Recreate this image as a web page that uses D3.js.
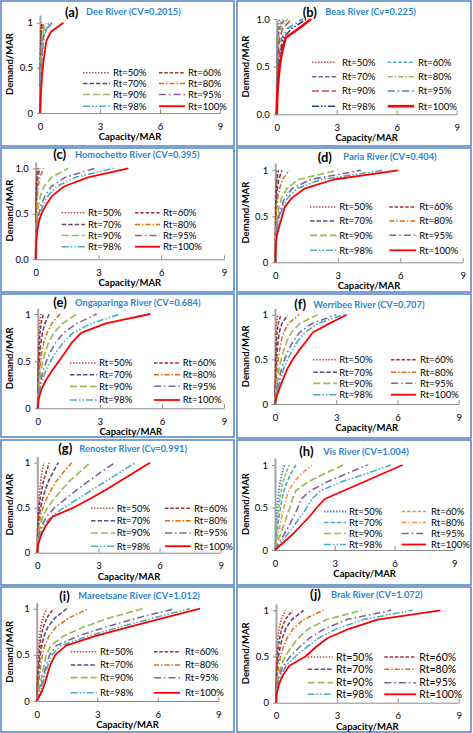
<!DOCTYPE html>
<html><head><meta charset="utf-8">
<script src="https://cdn.jsdelivr.net/npm/d3@7/dist/d3.min.js"></script>
<style>body{margin:0;background:#fff}svg{display:block}text{font-family:Lato,"Open Sans",sans-serif}</style>
</head><body><svg id="c" width="473" height="733"></svg>
<script>
const demandLevels = [0,0.1,0.2,0.3,0.4,0.5,0.6,0.7,0.8,0.9,1.0];
const rtLabels = ["Rt=50%","Rt=60%","Rt=70%","Rt=80%","Rt=90%","Rt=95%","Rt=98%","Rt=100%"];
const panelLetters = ["(a)","(b)","(c)","(d)","(e)","(f)","(g)","(h)","(i)","(j)"];
const riverTitles = ["Dee River (CV=0.2015)","Beas River (Cv=0.225)","Homochetto River (CV=0.395)","Paria River (CV=0.404)","Ongaparinga River (CV=0.684)","Werribee River (CV=0.707)","Renoster River (Cv=0.991)","Vis River (CV=1.004)","Mareetsane River (CV=1.012)","Brak River (CV=1.072)"];
const xTickValues = [0,3,6,9];
const yTickValues = [0,0.5,1];
const yTickFormats = ["0","0.0","0.0","0","0","0","0","0","0","0"];
const xTitle = "Capacity/MAR";
const yTitle = "Demand/MAR";

// capacity/MAR at each demand level, one array per Rt series (50,60,70,80,90,95,98,100)
const capDee = [
 [0,0,0,0.005,0.005,0.01,0.01,0.015,0.02,0.03,0.05],
 [0,0,0.005,0.01,0.01,0.015,0.02,0.025,0.035,0.05,0.08],
 [0,0,0.005,0.01,0.015,0.02,0.03,0.04,0.05,0.07,0.12],
 [0,0,0.01,0.015,0.02,0.03,0.04,0.06,0.08,0.11,0.2],
 [0,0.01,0.015,0.02,0.03,0.04,0.06,0.08,0.11,0.16,0.32],
 [0,0.01,0.02,0.03,0.04,0.06,0.08,0.11,0.15,0.22,0.6],
 [0,0.01,0.02,0.03,0.05,0.07,0.1,0.14,0.19,0.28,0.45],
 [0,0.02,0.04,0.07,0.1,0.14,0.19,0.25,0.32,0.55,1.17]];
const capBeas = [
 [0,0,0,0.005,0.005,0.01,0.01,0.02,0.03,0.06,0.15],
 [0,0,0.005,0.01,0.01,0.015,0.02,0.03,0.05,0.1,0.3],
 [0,0,0.01,0.01,0.015,0.02,0.03,0.05,0.07,0.13,0.4],
 [0,0,0.01,0.015,0.02,0.03,0.05,0.07,0.1,0.2,0.55],
 [0,0,0.01,0.02,0.03,0.05,0.07,0.1,0.15,0.3,0.75],
 [0,0.01,0.02,0.03,0.05,0.08,0.12,0.17,0.25,0.55,1.3],
 [0,0.01,0.02,0.04,0.07,0.11,0.16,0.23,0.33,0.75,1.5],
 [0,0.01,0.03,0.06,0.1,0.15,0.22,0.32,0.44,1.1,1.72]];
const capHomochetto = [
 [0,0,0,0.005,0.005,0.01,0.01,0.015,0.02,0.035,0.07],
 [0,0,0,0.005,0.01,0.01,0.02,0.025,0.035,0.06,0.12],
 [0,0,0.005,0.01,0.01,0.02,0.03,0.04,0.06,0.1,0.2],
 [0,0,0.01,0.01,0.02,0.03,0.05,0.08,0.12,0.2,0.37],
 [0,0,0.01,0.02,0.04,0.08,0.14,0.23,0.4,0.75,1.56],
 [0,0.01,0.02,0.04,0.08,0.15,0.27,0.45,0.75,1.4,2.83],
 [0,0.01,0.02,0.05,0.1,0.2,0.36,0.6,1.0,1.9,3.71],
 [0,0.01,0.03,0.07,0.14,0.27,0.5,0.8,1.35,2.5,4.43]];
const capParia = [
 [0,0,0,0,0.005,0.01,0.01,0.015,0.025,0.04,0.08],
 [0,0,0,0.005,0.01,0.015,0.02,0.03,0.05,0.08,0.15],
 [0,0,0.005,0.01,0.02,0.03,0.04,0.06,0.1,0.17,0.32],
 [0,0,0.01,0.02,0.03,0.05,0.08,0.12,0.2,0.35,0.67],
 [0,0.005,0.01,0.03,0.06,0.11,0.18,0.3,0.55,1.1,3.0],
 [0,0.01,0.02,0.04,0.09,0.17,0.28,0.45,0.8,1.7,4.12],
 [0,0.01,0.02,0.05,0.12,0.22,0.35,0.6,1.05,2.2,5.16],
 [0,0.01,0.03,0.08,0.2,0.33,0.45,0.8,1.4,2.8,5.9]];
const capOngaparinga = [
 [0,0,0.005,0.01,0.015,0.02,0.03,0.045,0.06,0.09,0.15],
 [0,0,0.01,0.015,0.025,0.04,0.055,0.08,0.11,0.17,0.27],
 [0,0.005,0.01,0.03,0.05,0.08,0.11,0.16,0.23,0.35,0.56],
 [0,0.01,0.02,0.05,0.09,0.14,0.21,0.3,0.45,0.68,1.08],
 [0,0.01,0.04,0.09,0.16,0.25,0.37,0.53,0.78,1.2,1.88],
 [0,0.02,0.07,0.15,0.27,0.42,0.62,0.88,1.25,1.9,2.85],
 [0,0.03,0.1,0.22,0.4,0.62,0.9,1.25,1.7,2.6,4.0],
 [0,0.05,0.18,0.4,0.7,1.02,1.35,1.66,2.1,3.3,5.43]];
const capWerribee = [
 [0,0,0.005,0.01,0.015,0.02,0.025,0.035,0.05,0.075,0.13],
 [0,0.005,0.01,0.02,0.03,0.04,0.055,0.075,0.1,0.16,0.29],
 [0,0.01,0.02,0.04,0.06,0.08,0.11,0.15,0.21,0.33,0.62],
 [0,0.02,0.04,0.07,0.11,0.16,0.22,0.3,0.42,0.65,1.19],
 [0,0.03,0.08,0.14,0.21,0.3,0.42,0.58,0.8,1.2,2.09],
 [0,0.05,0.13,0.22,0.33,0.47,0.65,0.88,1.2,1.8,3.0],
 [0,0.07,0.18,0.3,0.44,0.62,0.85,1.1,1.45,2.1,3.35],
 [0,0.1,0.26,0.43,0.62,0.87,1.18,1.52,1.85,2.65,3.51]];
const capRenoster = [
 [0,0,0.01,0.015,0.03,0.05,0.08,0.12,0.17,0.24,0.33],
 [0,0.005,0.01,0.03,0.05,0.09,0.14,0.22,0.31,0.44,0.59],
 [0,0.01,0.02,0.05,0.09,0.16,0.26,0.4,0.56,0.78,1.03],
 [0,0.01,0.04,0.08,0.16,0.28,0.45,0.68,0.95,1.3,1.69],
 [0,0.02,0.06,0.14,0.27,0.5,0.82,1.2,1.6,2.1,2.59],
 [0,0.03,0.1,0.22,0.45,0.85,1.4,1.95,2.55,3.15,3.81],
 [0,0.04,0.13,0.3,0.68,1.3,2.0,2.7,3.4,4.1,4.8],
 [0,0.05,0.2,0.42,0.75,1.77,2.59,3.37,4.09,4.81,5.53]];
const capVis = [
 [0,0.02,0.04,0.07,0.09,0.12,0.16,0.2,0.26,0.35,0.47],
 [0,0.03,0.07,0.1,0.14,0.19,0.24,0.31,0.4,0.54,0.72],
 [0,0.05,0.1,0.15,0.21,0.28,0.35,0.45,0.6,0.8,1.05],
 [0,0.08,0.17,0.26,0.35,0.45,0.55,0.7,0.95,1.35,1.86],
 [0,0.15,0.3,0.45,0.6,0.75,0.88,1.05,1.65,2.5,3.43],
 [0,0.25,0.5,0.74,0.95,1.15,1.3,1.8,2.6,3.6,4.65],
 [0,0.33,0.67,1.0,1.3,1.6,1.85,2.3,3.3,4.6,5.82],
 [0,0.48,0.95,1.35,1.76,2.1,2.5,3.47,4.45,5.42,6.4]];
const capMareetsane = [
 [0,0.01,0.02,0.04,0.05,0.07,0.1,0.14,0.2,0.3,0.5],
 [0,0.02,0.04,0.06,0.09,0.12,0.16,0.22,0.32,0.5,0.83],
 [0,0.03,0.06,0.09,0.13,0.18,0.25,0.36,0.55,0.9,1.49],
 [0,0.05,0.1,0.15,0.21,0.29,0.4,0.6,0.95,1.6,2.56],
 [0,0.1,0.19,0.28,0.37,0.48,0.7,1.3,2.3,3.6,5.25],
 [0,0.14,0.26,0.37,0.48,0.64,0.98,2.0,3.4,5.0,6.85],
 [0,0.18,0.32,0.44,0.57,0.76,1.2,2.5,4.1,5.8,7.59],
 [0,0.25,0.42,0.55,0.69,0.92,1.45,2.85,4.55,6.3,8.09]];
const capBrak = [
 [0,0,0.01,0.01,0.02,0.04,0.06,0.1,0.15,0.26,0.46],
 [0,0.005,0.01,0.02,0.04,0.07,0.11,0.18,0.28,0.46,0.82],
 [0,0.01,0.02,0.04,0.07,0.12,0.2,0.31,0.48,0.78,1.36],
 [0,0.01,0.03,0.07,0.13,0.22,0.36,0.55,0.85,1.35,2.33],
 [0,0.02,0.06,0.13,0.25,0.45,0.75,1.1,1.6,2.5,4.24],
 [0,0.02,0.08,0.18,0.36,0.7,1.15,1.65,2.4,3.5,5.67],
 [0,0.03,0.1,0.25,0.5,0.95,1.5,2.1,3.0,4.3,6.73],
 [0,0.04,0.15,0.35,0.66,1.45,1.95,2.55,3.6,5.0,8.1]];
const panelCaps = [capDee,capBeas,capHomochetto,capParia,capOngaparinga,capWerribee,capRenoster,capVis,capMareetsane,capBrak];

// ---- styles ----
const DOT="1.5 1.5", DASH="3.5 1.8", DASHD="4.5 2", DDOT="5 2 1.5 2", LDASH="7 3", LDD="7 3 1.5 3", LDDD="7 2 1.5 2 1.5 2";
const styleDefault = [
 {c:"#c0504d",d:DOT,w:1.6},{c:"#953735",d:DASH,w:1.6},{c:"#604a7b",d:DASHD,w:1.6},{c:"#e46c0a",d:DDOT,w:1.5},
 {c:"#9bbb59",d:LDASH,w:1.7},{c:"#8064a2",d:LDD,w:1.6},{c:"#4bacc6",d:LDDD,w:1.6},{c:"#ff0000",d:null,w:1.8}];
const styleBeas = [
 {c:"#c0504d",d:DOT,w:1.6},{c:"#4bacc6",d:DASH,w:1.6},{c:"#8064a2",d:DASHD,w:1.6},{c:"#9bbb59",d:DDOT,w:1.5},
 {c:"#c0504d",d:LDASH,w:1.6},{c:"#4f81bd",d:LDD,w:1.6},{c:"#1f497d",d:LDDD,w:1.6},{c:"#ff0000",d:null,w:2.6}];
const styleVis = [
 {c:"#4f81bd",d:DOT,w:1.8},{c:"#9bbb59",d:DASH,w:1.6},{c:"#4bacc6",d:DASHD,w:1.6},{c:"#f79646",d:DDOT,w:1.5},
 {c:"#9bbb59",d:LDASH,w:1.7},{c:"#8064a2",d:LDD,w:1.6},{c:"#4bacc6",d:LDDD,w:1.6},{c:"#ff0000",d:null,w:1.8}];
const panelStyles = [styleDefault,styleBeas,styleDefault,styleDefault,styleDefault,styleDefault,styleDefault,styleVis,styleDefault,styleDefault];

// ---- layout (pixel geometry) ----
const L = [
 {box:[1,1,233,145], x0:40,x9:220,y0:113,y1:22.7,ym:1.085, t:[65,86,12], rows:[72.7,83.5,94.5,106.2], c1:[83,110,113], c2:[159,185,188], fs:9.5},
 {box:[237,1,234,145], x0:276.7,x9:456.7,y0:114.3,y1:19,ym:1.0, t:[302.7,325.3,12], rows:[62.3,76.7,91,106.2], c1:[312,336,342], c2:[387.7,414,418], fs:9.5},
 {box:[1,148,233,144], x0:35.7,x9:224,y0:259.3,y1:168.3,ym:1.07, t:[53.3,75,154.3], rows:[212.7,224.5,235.5,246.7], c1:[61.7,85,88], c2:[135,160,163], fs:9.5},
 {box:[237,148,234,144], x0:275.3,x9:462.7,y0:262.3,y1:170.3,ym:1.08, t:[317.7,343.3,157], rows:[207,221,235.3,250.3], c1:[310,336,339.3], c2:[389.3,416,419.3], fs:9.5},
 {box:[1,294,233,143], x0:37.7,x9:224,y0:408.3,y1:314,ym:1.06, t:[53.3,75,302.3], rows:[363,374.7,386.3,400], c1:[70,96.7,99], c2:[154,180,182.7], fs:9.5},
 {box:[237,294,234,144], x0:275,x9:458.7,y0:404,y1:314.7,ym:1.07, t:[294.3,313.3,304.7], rows:[359.7,372.3,383.3,394.7], c1:[313.3,337,339.3], c2:[391,416,420], fs:9.5},
 {box:[1,440,233,145], x0:37.3,x9:220.7,y0:552.7,y1:462.7,ym:1.07, t:[58.3,79.3,448.3], rows:[508.3,520.7,533,546.2], c1:[91,115,116.7], c2:[165,190.7,194], fs:9.5},
 {box:[237,440,234,145], x0:275,x9:454.3,y0:550,y1:465,ym:1.08, t:[299.3,323.3,451.7], rows:[511.5,522.5,533.5,544.5], c1:[324,346,349], c2:[401.7,426,431], fs:9.5},
 {box:[1,587,233,145], x0:36.7,x9:218.3,y0:701,y1:608.7,ym:1.065, t:[59.3,78.3,596], rows:[651.7,665,677.7,692.8], c1:[70.7,96.7,100], c2:[154,180,185], fs:9.5},
 {box:[237,587,234,145], x0:276,x9:458.7,y0:702.7,y1:610.3,ym:1.07, t:[310,331,594.3], rows:[657,669.3,682.7,694.3], c1:[307.7,332.7,336], c2:[384.3,416,419.3], fs:10.5}
];

const svg = d3.select("#c");
svg.append("rect").attr("width",473).attr("height",733).attr("fill","#fff");

panelCaps.forEach((caps, i) => {
  const p = L[i];
  const g = svg.append("g");
  g.append("rect").attr("x",p.box[0]).attr("y",p.box[1]).attr("width",p.box[2]).attr("height",p.box[3])
    .attr("fill","#fff").attr("stroke","#5a8ac6").attr("stroke-width",1.6);
  const ytop = p.y0 - (p.y0 - p.y1) * p.ym;
  const x = d3.scaleLinear().domain([0,9]).range([p.x0,p.x9]);
  const y = d3.scaleLinear().domain([0,p.ym]).range([p.y0,ytop]);

  // x axis
  const xa = g.append("g").attr("transform",`translate(0,${p.y0})`)
    .call(d3.axisBottom(x).tickValues(xTickValues).tickFormat(d3.format("d")).tickSizeInner(-4).tickSizeOuter(0).tickPadding(10));
  xa.select(".domain").attr("stroke","#8c8c8c").attr("stroke-width",1);
  xa.selectAll(".tick line").attr("stroke","#8c8c8c");
  xa.selectAll("text").attr("font-size",9.5).attr("fill","#000").attr("font-family","Lato");
  // y axis
  const ya = g.append("g").attr("transform",`translate(${p.x0},0)`)
    .call(d3.axisLeft(y).tickValues(yTickValues).tickFormat(d3.format(yTickFormats[i]==="0.0"?".1f":"~g")).tickSizeInner(3).tickSizeOuter(0).tickPadding(4));
  ya.select(".domain").attr("stroke","#a6a6a6").attr("stroke-width",2);
  ya.selectAll(".tick line").attr("stroke","#8c8c8c");
  ya.selectAll("text").attr("font-size",9.5).attr("fill","#000").attr("font-family","Lato");

  // axis titles
  g.append("text").attr("x",(p.x0+p.x9)/2).attr("y",p.y0+27).attr("text-anchor","middle")
    .attr("font-size",9.5).attr("font-weight","bold").text(xTitle);
  g.append("text").attr("transform",`translate(${p.box[0]+12},${(p.y0+ytop)/2}) rotate(-90)`)
    .attr("text-anchor","middle").attr("font-size",9.5).attr("font-weight","bold").text(yTitle);

  // title
  g.append("text").attr("x",p.t[0]).attr("y",p.t[2]).attr("dy","0.36em").attr("font-size",13)
    .attr("font-weight","bold").attr("fill","#000").text(panelLetters[i]);
  g.append("text").attr("x",p.t[1]).attr("y",p.t[2]).attr("dy","0.36em").attr("font-size",9.3)
    .attr("font-weight","bold").attr("fill","#2e86d0").text(riverTitles[i]);

  // lines
  const st = panelStyles[i];
  const line = d3.line().x(d => x(d[0])).y(d => y(d[1]));
  caps.forEach((arr, k) => {
    const pts = arr.map((c, j) => [c, demandLevels[j]]);
    g.append("path").attr("d", line(pts)).attr("fill","none").attr("stroke",st[k].c)
      .attr("stroke-width",st[k].w).attr("stroke-dasharray",st[k].d).attr("stroke-linejoin","round");
  });

  // legend
  rtLabels.forEach((lab, k) => {
    const r = p.rows[Math.floor(k/2)];
    const col = k % 2 === 0 ? p.c1 : p.c2;
    g.append("line").attr("x1",col[0]).attr("x2",col[1]).attr("y1",r).attr("y2",r)
      .attr("stroke",st[k].c).attr("stroke-width",st[k].w).attr("stroke-dasharray",st[k].d);
    g.append("text").attr("x",col[2]).attr("y",r).attr("dy","0.35em").attr("font-size",p.fs).text(lab);
  });
});
</script></body></html>
